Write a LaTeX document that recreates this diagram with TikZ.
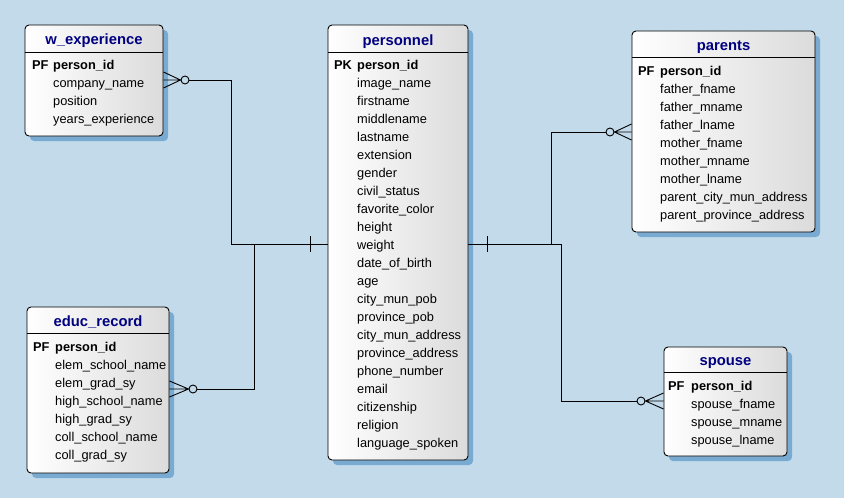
\documentclass[tikz,border=0pt]{standalone}
\usepackage{fontspec}
\setmainfont{Liberation Sans}
\usetikzlibrary{shadows,calc}
\definecolor{bg}{RGB}{195,218,235}
\definecolor{shd}{RGB}{120,170,210}
\definecolor{ttl}{RGB}{0,0,128}
\tikzset{
  entity/.style={draw=black, line width=0.9pt, rounded corners=4pt,
    left color=white, right color=black!14, inner sep=0pt,
    drop shadow={shadow xshift=5pt, shadow yshift=-5pt, fill=shd, opacity=1}},
  ttlnode/.style={font=\fontsize{14.8}{16}\selectfont\bfseries, text=ttl, anchor=base, inner sep=0pt},
  keynode/.style={font=\fontsize{12.8}{15}\selectfont\bfseries, anchor=base west, inner sep=0pt},
  attr/.style={font=\fontsize{12.8}{15}\selectfont, anchor=base west, inner sep=0pt},
  conn/.style={draw=black, line width=0.9pt},
  optc/.style={circle, draw=black, line width=0.9pt, minimum size=8pt, inner sep=0pt}
}
\newcommand\mkentity[6]{% name, left, top, right, bottom, header y
  \node[entity, minimum width={#4-#2}, minimum height={#5-#3}] (#1) at ({(#2+#4)/2},{(#3+#5)/2}) {};
  \draw[line width=0.9pt] (#1.west |- 0,#6) -- (#1.east |- 0,#6);
}
\begin{document}
\begin{tikzpicture}[x=1pt,y=-1pt]
\fill[bg] (0,0) rectangle (844,498);
\useasboundingbox (0,0) rectangle (844,498);

% ---------- entities ----------
\mkentity{wexp}{25}{25}{163}{136}{52}
\mkentity{pers}{328}{25}{468}{460}{52}
\mkentity{par}{632}{31}{815}{232}{57}
\mkentity{educ}{27}{307}{169}{473}{333}
\mkentity{sp}{664}{347}{787}{456}{372}

% ---------- w_experience ----------
\node[ttlnode] (wexpT) at (94,44) {w\_experience};
\node[keynode] (wexpK) at (32,69) {PF};
\node[keynode] (wexpA0) at (53,69) {person\_id};
\foreach [count=\i] \t in {company\_name, position, years\_experience}
  \node[attr] (wexpA\i) at (53,69+18*\i) {\t};

% ---------- personnel ----------
\node[ttlnode] (persT) at (398,45) {personnel};
\node[keynode] (persK) at (334,69) {PK};
\node[keynode] (persA0) at (357,69) {person\_id};
\foreach [count=\i] \t in {image\_name, firstname, middlename, lastname, extension,
  gender, civil\_status, favorite\_color, height, weight, date\_of\_birth, age,
  city\_mun\_pob, province\_pob, city\_mun\_address, province\_address,
  phone\_number, email, citizenship, religion, language\_spoken}
  \node[attr] (persA\i) at (357,69+18*\i) {\t};

% ---------- parents ----------
\node[ttlnode] (parT) at (723.5,50) {parents};
\node[keynode] (parK) at (638,75) {PF};
\node[keynode] (parA0) at (660,75) {person\_id};
\foreach [count=\i] \t in {father\_fname, father\_mname, father\_lname,
  mother\_fname, mother\_mname, mother\_lname, parent\_city\_mun\_address,
  parent\_province\_address}
  \node[attr] (parA\i) at (660,75+18*\i) {\t};

% ---------- educ_record ----------
\node[ttlnode] (educT) at (98,326) {educ\_record};
\node[keynode] (educK) at (33,351) {PF};
\node[keynode] (educA0) at (55,351) {person\_id};
\foreach [count=\i] \t in {elem\_school\_name, elem\_grad\_sy, high\_school\_name,
  high\_grad\_sy, coll\_school\_name, coll\_grad\_sy}
  \node[attr] (educA\i) at (55,351+18*\i) {\t};

% ---------- spouse ----------
\node[ttlnode] (spT) at (725.5,365) {spouse};
\node[keynode] (spK) at (668,390) {PF};
\node[keynode] (spA0) at (691,390) {person\_id};
\foreach [count=\i] \t in {spouse\_fname, spouse\_mname, spouse\_lname}
  \node[attr] (spA\i) at (691,390+18*\i) {\t};

% ---------- connector points ----------
\coordinate (wturn) at (231,244);
\coordinate (eturn) at (254,244);
\coordinate (pturn) at (551,244);
\coordinate (sturn) at (561,244);

% optional circles
\node[optc] (wc) at (185,80) {};
\node[optc] (ec) at (193,389) {};
\node[optc] (pc) at (610,132) {};
\node[optc] (sc) at (641,401) {};

% crow's feet
\coordinate (wf) at (wexp.east |- wc);
\draw[conn] ($(wf)+(0,-8)$) -- (wc.west) -- ($(wf)+(0,8)$) (wf) -- (wc.west);
\coordinate (ef) at (educ.east |- ec);
\draw[conn] ($(ef)+(0,-8)$) -- (ec.west) -- ($(ef)+(0,8)$) (ef) -- (ec.west);
\coordinate (pf) at (par.west |- pc);
\draw[conn] ($(pf)+(0,-8)$) -- (pc.east) -- ($(pf)+(0,8)$) (pf) -- (pc.east);
\coordinate (sf) at (sp.west |- sc);
\draw[conn] ($(sf)+(0,-8)$) -- (sc.east) -- ($(sf)+(0,8)$) (sf) -- (sc.east);

% relationship lines
\draw[conn] (wc.east) -| (wturn) -- (pers.west |- wturn);
\draw[conn] (ec.east) -| (eturn);
\draw[conn] (pc.west) -| (pturn) -- (pers.east |- pturn);
\draw[conn] (sc.west) -| (sturn) -- (pturn);

% one-mandatory ticks
\draw[conn] (310,236) -- (310,252);
\draw[conn] (487,236) -- (487,252);
\end{tikzpicture}
\end{document}
